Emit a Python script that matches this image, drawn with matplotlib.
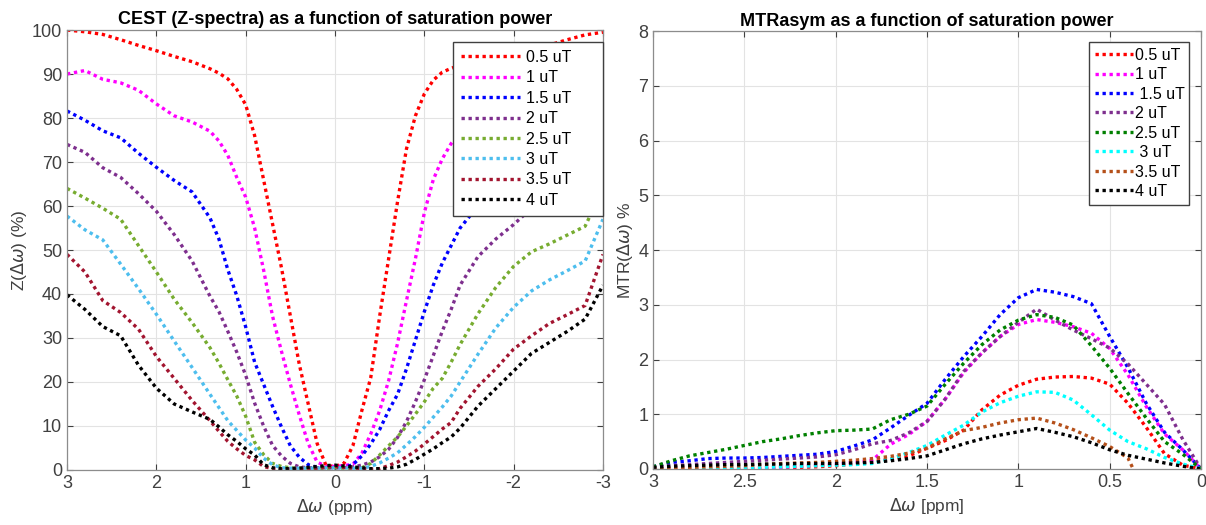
import matplotlib.pyplot as plt

plt.rcParams['font.family'] = ['Liberation Sans', 'DejaVu Sans']
plt.rcParams['mathtext.fontset'] = 'dejavusans'
plt.rcParams['axes.unicode_minus'] = False

# ---- left panel: Z-spectra ----
offsets = [3.0, 2.8, 2.6, 2.4, 2.2, 2.0, 1.8, 1.6, 1.4, 1.3, 1.2, 1.1, 1.0, 0.9, 0.8,
           0.7, 0.6, 0.5, 0.4, 0.3, 0.2, 0.1, 0.0, -0.1, -0.2, -0.3, -0.4, -0.5, -0.6,
           -0.7, -0.8, -0.9, -1.0, -1.1, -1.2, -1.3, -1.4, -1.6, -1.8, -2.0, -2.2,
           -2.4, -2.6, -2.8, -3.0]

z_05 = [100, 99.6, 99.0, 97.8, 96.5, 95.3, 94.0, 92.8, 91.2, 90.2, 88.9, 86.5, 83, 76, 66,
        56, 46, 35, 24, 15, 6, 1, 0.8, 1.5, 5.5, 13.5, 21, 35, 48,
        61, 73, 80.5, 85.5, 88.6, 90.4, 91.3, 92, 93, 94, 95, 95.8,
        96.6, 97.8, 98.9, 99.5]
z_10 = [90, 90.8, 88.8, 88.0, 86.3, 83.2, 80.5, 79.1, 77, 74.8, 71.5, 66.5, 62, 55, 45.5,
        35, 27, 19.5, 12.5, 6, 1.8, 0.8, 0.8, 1, 1.3, 3.8, 8.2, 13.5, 20.3,
        28.8, 38.5, 48, 58.5, 66, 70.7, 74.2, 76.5, 80, 82.5, 84.5, 86,
        87.3, 88.5, 89.6, 90.7]
z_15 = [81.6, 79.5, 77.1, 75.5, 72, 68.8, 65.8, 63.2, 57.3, 52.5, 45.5, 39.6, 32.5, 24.5, 19.5,
        14.5, 9.8, 5.5, 2.9, 1.2, 0.6, 0.5, 0.5, 0.6, 1.2, 3.2, 5.9, 9.2, 13.5,
        17.2, 23, 29.5, 36, 42, 47, 51, 55, 60, 64, 67.5, 70.5,
        73.5, 76, 78.5, 81.2]
z_20 = [74, 72.2, 68.7, 66.5, 62.8, 58.8, 53.5, 47.5, 39.5, 36, 31.5, 26.8, 21.5, 15.2, 10,
        5.6, 3.2, 1.5, 0.7, 0.5, 0.5, 0.5, 0.5, 0.5, 0.7, 1.1, 1.8, 3, 4.7,
        7.4, 11, 15.5, 20.5, 26, 31.5, 36.5, 42, 48.5, 52.5, 55.8, 59.5,
        63, 66.5, 70, 74]
z_25 = [64, 61.8, 59.5, 57, 51, 45, 38.8, 33.5, 27.8, 24.3, 20.5, 16.8, 12.2, 6.3, 3.5,
        1.5, 0.8, 0.5, 0.4, 0.4, 0.4, 0.4, 0.5, 0.4, 0.4, 0.5, 1.5, 3.4, 5.5,
        7.5, 10, 12.7, 15.5, 18.6, 20.8, 24.5, 28.5, 35.5, 41.5, 46.3, 49.6,
        51.4, 53.4, 55.4, 64]
z_30 = [57.7, 54.6, 52.3, 46.8, 41.2, 35.4, 29.3, 23.3, 17.2, 14.2, 11.2, 9, 6.8, 5, 2.7,
        1.2, 0.5, 0.4, 0.4, 0.4, 0.4, 0.5, 0.5, 0.5, 0.4, 0.4, 0.8, 1.6, 2.7,
        3.9, 5.7, 7.6, 9.7, 12, 14.3, 16.8, 20, 26.3, 32.3, 37, 40.7,
        43.2, 45.3, 47.5, 57]
z_35 = [49, 45, 38.5, 35.8, 32, 25.8, 20.8, 15.8, 11.2, 8.8, 6.5, 4.8, 3.3, 2.3, 0.8,
        0.3, 0.2, 0.2, 0.2, 0.3, 0.4, 0.6, 0.8, 0.6, 0.4, 0.3, 0.2, 0.3, 1,
        1.8, 3, 4.3, 5.9, 7.6, 9.3, 10.8, 14, 19, 23, 27.5, 30.5,
        33.3, 35.3, 37.4, 49]
z_40 = [39.8, 36.5, 32.6, 30.5, 23.8, 18.6, 15, 13.2, 11.5, 9.8, 8, 6.5, 4.8, 3.4, 1.2,
        0.5, 0.3, 0.3, 0.4, 0.6, 0.8, 1, 1.1, 0.9, 0.7, 0.5, 0.3, 0.3, 0.4,
        0.7, 1.3, 2.4, 3.6, 4.8, 6.2, 7.5, 9.5, 14.5, 18.5, 22.5, 26.5,
        29, 31.5, 34.3, 42]

z_labels = ['0.5 uT', '1 uT', '1.5 uT', '2 uT', '2.5 uT', '3 uT', '3.5 uT', '4 uT']
z_colors = ['#ff0000', '#ff00ff', '#0000ff', '#7e2f8e', '#77ac30', '#4dbeee', '#a2142f', '#000000']

# ---- right panel: MTRasym ----
mtr_x = [3.0, 2.9, 2.8, 2.7, 2.6, 2.5, 2.4, 2.3, 2.2, 2.1, 2.0, 1.9, 1.8, 1.7, 1.6, 1.5,
         1.4, 1.3, 1.2, 1.1, 1.0, 0.9, 0.8, 0.7, 0.6, 0.5, 0.4, 0.3, 0.2, 0.1, 0.0]

m_05 = [0, 0, 0, 0, 0, 0, 0.01, 0.02, 0.03, 0.04, 0.06, 0.09, 0.13, 0.18, 0.24, 0.38,
        0.52, 0.71, 1.08, 1.35, 1.53, 1.64, 1.68, 1.69, 1.66, 1.55, 1.2, 0.76, 0.28, 0.07, 0]
m_10 = [-0.05, -0.05, -0.05, -0.05, -0.03, 0.0, 0.02, 0.03, 0.05, 0.07, 0.09, 0.12, 0.16, 0.45, 0.63, 0.87,
        1.28, 1.76, 2.12, 2.42, 2.64, 2.73, 2.68, 2.60, 2.48, 2.2, 1.72, 1.14, 0.64, 0.35, 0]
m_15 = [0.04, 0.12, 0.15, 0.19, 0.20, 0.20, 0.21, 0.23, 0.25, 0.27, 0.32, 0.42, 0.53, 0.75, 0.98, 1.2,
        1.64, 2.05, 2.42, 2.82, 3.13, 3.28, 3.23, 3.15, 3.02, 2.42, 1.85, 1.20, 0.67, 0.35, 0]
m_20 = [0.03, 0.06, 0.08, 0.10, 0.12, 0.14, 0.16, 0.18, 0.20, 0.22, 0.26, 0.35, 0.46, 0.52, 0.66, 0.87,
        1.28, 1.78, 2.12, 2.42, 2.68, 2.92, 2.72, 2.54, 2.38, 2.21, 1.92, 1.55, 1.18, 0.54, 0]
m_25 = [0.04, 0.15, 0.24, 0.30, 0.36, 0.43, 0.50, 0.55, 0.61, 0.66, 0.70, 0.71, 0.73, 0.90, 1.0, 1.15,
        1.55, 1.93, 2.27, 2.54, 2.72, 2.82, 2.77, 2.63, 2.25, 1.84, 1.38, 0.93, 0.5, 0.27, 0]
m_30 = [-0.05, -0.05, -0.03, 0.0, 0.01, 0.02, 0.03, 0.04, 0.05, 0.06, 0.07, 0.08, 0.10, 0.18, 0.30, 0.43,
        0.62, 0.80, 1.04, 1.21, 1.33, 1.41, 1.40, 1.26, 0.99, 0.71, 0.50, 0.37, 0.21, 0.09, 0]
m_35 = [0.01, 0.02, 0.03, 0.04, 0.05, 0.06, 0.08, 0.10, 0.11, 0.12, 0.14, 0.16, 0.19, 0.23, 0.29, 0.38,
        0.55, 0.70, 0.76, 0.84, 0.90, 0.93, 0.84, 0.72, 0.57, 0.41, 0.2, -0.5, -0.8, -0.9, -1.0]
m_40 = [0.03, 0.05, 0.06, 0.07, 0.08, 0.08, 0.09, 0.09, 0.10, 0.10, 0.10, 0.11, 0.12, 0.15, 0.19, 0.24,
        0.35, 0.46, 0.55, 0.62, 0.68, 0.74, 0.67, 0.59, 0.48, 0.35, 0.25, 0.18, 0.11, 0.05, 0]

m_labels = ['0.5 uT', '1 uT', ' 1.5 uT', '2 uT', '2.5 uT', ' 3 uT', '3.5 uT', '4 uT']
m_colors = ['#ff0000', '#ff00ff', '#0000ff', '#7e2f8e', '#008000', '#00ffff', '#b5501a', '#000000']

fig = plt.figure(figsize=(12.06, 5.25), dpi=100)
ax1 = fig.add_axes([0.0556, 0.1048, 0.4444, 0.838])
ax2 = fig.add_axes([0.5415, 0.1067, 0.4544, 0.834])

dots = (0, (1, 1.1))
for ys, lab, c in zip([z_05, z_10, z_15, z_20, z_25, z_30, z_35, z_40], z_labels, z_colors):
    ax1.plot(offsets, ys, color=c, lw=2.4, linestyle=dots, label=lab)

for ys, lab, c in zip([m_05, m_10, m_15, m_20, m_25, m_30, m_35, m_40], m_labels, m_colors):
    ax2.plot(mtr_x, ys, color=c, lw=2.4, linestyle=dots, label=lab)

ax1.set_xlim(3, -3)
ax1.set_ylim(0, 100)
ax1.set_xticks([3, 2, 1, 0, -1, -2, -3])
ax1.set_yticks(range(0, 101, 10))
ax1.set_title('CEST (Z-spectra) as a function of saturation power', fontsize=13,
              fontweight='bold', pad=4)
ax1.set_xlabel(r'$\Delta\omega$ (ppm)', fontsize=12.5, color='#404040')
ax1.set_ylabel(r'Z($\Delta\omega$) (%)', fontsize=12.5, color='#404040', labelpad=2)

ax2.set_xlim(3, 0)
ax2.set_ylim(0, 8)
ax2.set_xticks([3, 2.5, 2, 1.5, 1, 0.5, 0])
ax2.set_xticklabels(['3', '2.5', '2', '1.5', '1', '0.5', '0'])
ax2.set_yticks(range(0, 9))
ax2.set_title('MTRasym as a function of saturation power', fontsize=13,
              fontweight='bold', pad=4)
ax2.set_xlabel(r'$\Delta\omega$ [ppm]', fontsize=12.5, color='#404040')
ax2.set_ylabel(r'MTR($\Delta\omega$) %', fontsize=12.5, color='#404040', labelpad=2)

for ax in (ax1, ax2):
    ax.grid(True, color='#e3e3e3', lw=0.8)
    ax.set_axisbelow(True)
    ax.tick_params(direction='in', length=4, top=True, right=True, labelsize=13,
                   colors='#404040', width=0.8)
    for s in ax.spines.values():
        s.set_color('#8c8c8c')
        s.set_linewidth(0.9)

leg1 = ax1.legend(loc='upper left', bbox_to_anchor=(0.720, 0.0, 0.280, 0.973), mode='expand',
                  borderaxespad=0, fontsize=11.5, handlelength=3.7, handletextpad=0.35,
                  labelspacing=0.34, borderpad=0.5, fancybox=False, framealpha=1)
leg1.get_frame().set_edgecolor('#404040')
leg2 = ax2.legend(loc='upper left', bbox_to_anchor=(0.7956, 0.0, 0.1825, 0.975), mode='expand',
                  borderaxespad=0, fontsize=11.5, handlelength=2.4, handletextpad=0.1,
                  labelspacing=0.28, borderpad=0.35, fancybox=False, framealpha=1)
leg2.get_frame().set_edgecolor('#404040')

fig.savefig('out.png', dpi=100)
